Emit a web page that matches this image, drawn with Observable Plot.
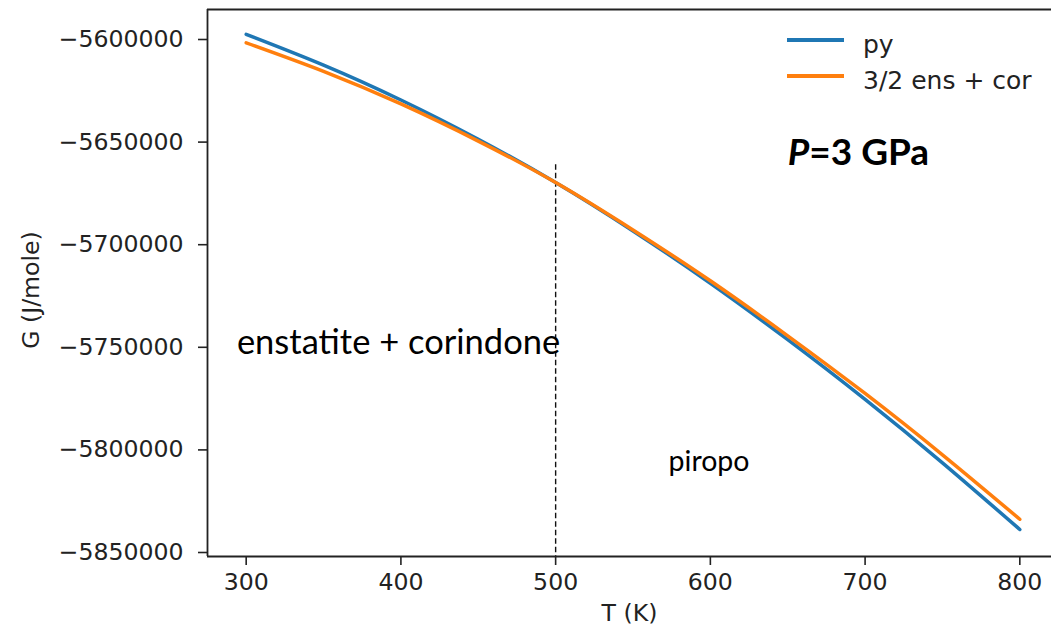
<!DOCTYPE html>
<html>
<head>
<meta charset="utf-8">
<script src="https://cdn.jsdelivr.net/npm/d3@7"></script>
<script src="https://cdn.jsdelivr.net/npm/@observablehq/plot@0.6"></script>
<style>
  html, body { margin: 0; padding: 0; background: #fff; }
  #wrap { position: relative; width: 1051px; height: 627px; overflow: hidden; }
  #legend { position: absolute; left: 787px; top: 22px; font-family: "DejaVu Sans", sans-serif; font-size: 25px; color: #222; }
  #legend .row { display: flex; align-items: center; height: 36px; white-space: nowrap; }
  #legend .sw { width: 57px; height: 3.5px; margin-right: 19px; flex: none; }
  #legend .lab { position: relative; top: 4px; }
</style>
</head>
<body>
<div id="wrap"></div>
<script>
// ---- data ----
const temps = [300, 350, 400, 450, 500, 550, 600, 650, 700, 750, 800];
const pyG  = [-5597500, -5612500, -5629500, -5648600, -5669700, -5693300, -5718800, -5746300, -5775400, -5806300, -5838800];
const ensG = [-5601600, -5615500, -5631400, -5649500, -5669700, -5692800, -5717600, -5744400, -5772500, -5802400, -5833800];
const seriesNames = ["py", "3/2 ens + cor"];
const seriesColors = ["#1f77b4", "#ff7f0e"];
const xTicks = [300, 400, 500, 600, 700, 800];
const yTicks = [-5600000, -5650000, -5700000, -5750000, -5800000, -5850000];
const xDomain = [275, 825];
const yDomain = [-5851950, -5585380];
const divideT = 500;
const divideTopG = -5661000;
const noteText = ["enstatite + corindone", "piropo", "P=3 GPa"];
const noteT = [294, 573, 650];
const noteG = [-5753500, -5810500, -5661400];
const xLabel = "T (K)";
const yLabel = "G (J/mole)";

const pyRows = temps.map((t, i) => ({T: t, G: pyG[i]}));
const ensRows = temps.map((t, i) => ({T: t, G: ensG[i]}));
const notes = noteText.map((s, i) => ({text: s, T: noteT[i], G: noteG[i]}));

const chart = Plot.plot({
  width: 1051,
  height: 627,
  marginLeft: 207,
  marginTop: 9,
  marginBottom: 71,
  marginRight: 0,
  x: {domain: xDomain, range: [207, 1058]},
  y: {domain: yDomain},
  style: {fontFamily: "DejaVu Sans, sans-serif", fontSize: "23.6px", color: "#222", background: "#fff", overflow: "visible"},
  marks: [
    Plot.ruleX([divideT], {y1: divideTopG, y2: yDomain[0], stroke: "#111", strokeWidth: 1.4, strokeDasharray: "5.5,3"}),
    Plot.line(pyRows, {x: "T", y: "G", stroke: seriesColors[0], strokeWidth: 3.5, curve: "natural"}),
    Plot.line(ensRows, {x: "T", y: "G", stroke: seriesColors[1], strokeWidth: 3.5, curve: "natural"}),
    Plot.ruleY([yDomain[0], yDomain[1]], {stroke: "#222", strokeWidth: 1.8}),
    Plot.ruleX([xDomain[0]], {stroke: "#222", strokeWidth: 1.8}),
    Plot.axisX({ticks: xTicks, tickSize: 9, tickPadding: 8, label: null, stroke: "#222", strokeWidth: 1.6}),
    Plot.axisY({ticks: yTicks, tickSize: 9, tickPadding: 15, label: null, tickFormat: d => "\u2212" + Math.abs(d), stroke: "#222", strokeWidth: 1.6}),
    Plot.text([xLabel], {frameAnchor: "bottom", lineAnchor: "bottom", dy: 64, fill: "#222"}),
    Plot.text([yLabel], {frameAnchor: "left", textAnchor: "middle", rotate: -90, dx: -176, dy: 7, fill: "#222"}),
    Plot.text([notes[0]], {x: "T", y: "G", text: "text", textAnchor: "start", lineAnchor: "bottom", fontFamily: "Lato, sans-serif", fontSize: 34.5, fill: "#000"}),
    Plot.text([notes[1]], {x: "T", y: "G", text: "text", textAnchor: "start", lineAnchor: "bottom", fontFamily: "Lato, sans-serif", fontSize: 28.5, fill: "#000"}),
    Plot.text([notes[2]], {x: "T", y: "G", text: "text", textAnchor: "start", lineAnchor: "bottom", fontFamily: "Lato, sans-serif", fontSize: 37, fontWeight: "bold", fill: "#000"})
  ]
});

// italic P in "P=3 GPa"
chart.querySelectorAll("text").forEach(t => {
  if (t.textContent === noteText[2]) {
    t.textContent = "";
    const ns = "http://www.w3.org/2000/svg";
    const a = document.createElementNS(ns, "tspan");
    a.setAttribute("font-style", "italic");
    a.textContent = noteText[2].slice(0, 1);
    const b = document.createElementNS(ns, "tspan");
    b.textContent = noteText[2].slice(1);
    t.appendChild(a); t.appendChild(b);
  }
});

const wrap = document.getElementById("wrap");
wrap.appendChild(chart);

const legend = document.createElement("div");
legend.id = "legend";
seriesNames.forEach((name, i) => {
  const row = document.createElement("div");
  row.className = "row";
  const sw = document.createElement("div");
  sw.className = "sw";
  sw.style.background = seriesColors[i];
  const lab = document.createElement("span");
  lab.className = "lab";
  lab.textContent = name;
  row.appendChild(sw); row.appendChild(lab);
  legend.appendChild(row);
});
wrap.appendChild(legend);
</script>
</body>
</html>
